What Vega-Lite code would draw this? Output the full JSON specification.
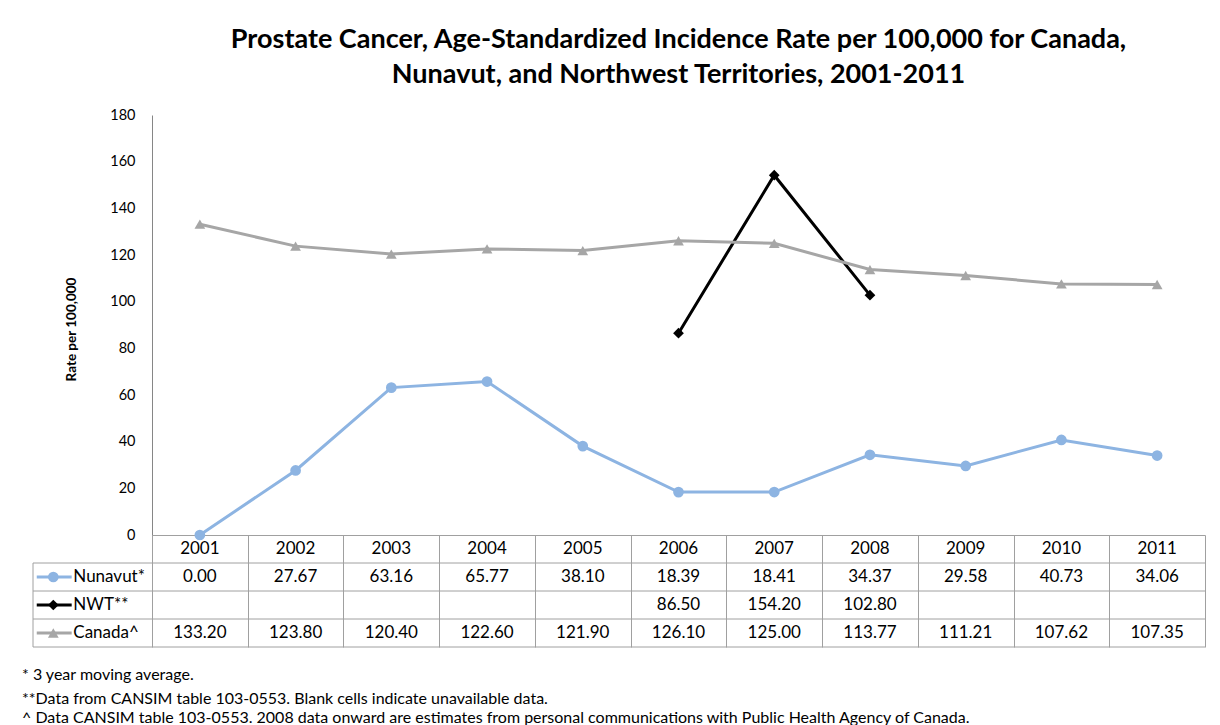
{
  "$schema": "https://vega.github.io/schema/vega-lite/v6.json",
  "width": 1053,
  "height": 420,
  "autosize": {"type": "none"},
  "padding": {"left": 152, "top": 115, "right": 15, "bottom": 190},
  "background": "white",
  "config": {"view": {"stroke": null}, "font": "Lato", "text": {"font": "Lato", "color": "black"}},
  "title": {
    "text": ["Prostate Cancer, Age-Standardized Incidence Rate per 100,000 for Canada,", "Nunavut, and Northwest Territories, 2001-2011"],
    "font": "Lato", "fontSize": 27, "fontWeight": "bold", "color": "black",
    "anchor": "middle", "frame": "group", "lineHeight": 35, "offset": 18
  },
  "data": {
    "values": [
      {"year": 2001, "series": "Nunavut*", "value": 0.00},
      {"year": 2002, "series": "Nunavut*", "value": 27.67},
      {"year": 2003, "series": "Nunavut*", "value": 63.16},
      {"year": 2004, "series": "Nunavut*", "value": 65.77},
      {"year": 2005, "series": "Nunavut*", "value": 38.10},
      {"year": 2006, "series": "Nunavut*", "value": 18.39},
      {"year": 2007, "series": "Nunavut*", "value": 18.41},
      {"year": 2008, "series": "Nunavut*", "value": 34.37},
      {"year": 2009, "series": "Nunavut*", "value": 29.58},
      {"year": 2010, "series": "Nunavut*", "value": 40.73},
      {"year": 2011, "series": "Nunavut*", "value": 34.06},
      {"year": 2006, "series": "NWT**", "value": 86.50},
      {"year": 2007, "series": "NWT**", "value": 154.20},
      {"year": 2008, "series": "NWT**", "value": 102.80},
      {"year": 2001, "series": "Canada^", "value": 133.20},
      {"year": 2002, "series": "Canada^", "value": 123.80},
      {"year": 2003, "series": "Canada^", "value": 120.40},
      {"year": 2004, "series": "Canada^", "value": 122.60},
      {"year": 2005, "series": "Canada^", "value": 121.90},
      {"year": 2006, "series": "Canada^", "value": 126.10},
      {"year": 2007, "series": "Canada^", "value": 125.00},
      {"year": 2008, "series": "Canada^", "value": 113.77},
      {"year": 2009, "series": "Canada^", "value": 111.21},
      {"year": 2010, "series": "Canada^", "value": 107.62},
      {"year": 2011, "series": "Canada^", "value": 107.35}
    ]
  },
  "layer": [
    {
      "mark": {"type": "line", "strokeWidth": 3},
      "encoding": {
        "x": {
          "field": "year", "type": "quantitative",
          "scale": {"domain": [2000.5, 2011.5], "nice": false, "zero": false},
          "axis": {
            "values": [2000.5, 2001.5, 2002.5, 2003.5, 2004.5, 2005.5, 2006.5, 2007.5, 2008.5, 2009.5, 2010.5, 2011.5],
            "labels": false, "ticks": true, "tickSize": 112, "tickColor": "#a0a0a0", "tickWidth": 1,
            "domain": true, "domainColor": "#a0a0a0", "domainWidth": 1, "grid": false, "title": null
          }
        },
        "y": {
          "field": "value", "type": "quantitative",
          "scale": {"domain": [0, 180], "nice": false, "zero": true},
          "axis": {
            "values": [0, 20, 40, 60, 80, 100, 120, 140, 160, 180],
            "ticks": false, "labelPadding": 17, "labelFont": "Lato", "labelFontSize": 14.5, "labelColor": "black",
            "domainColor": "#868686", "domainWidth": 1, "grid": false,
            "title": "Rate per 100,000", "titleFont": "Lato", "titleFontSize": 13.5, "titleFontWeight": "bold",
            "titleColor": "black", "titleX": -74, "titleY": 214, "titleBaseline": "bottom", "titleAngle": -90, "titleAlign": "center"
          }
        },
        "color": {
          "field": "series", "type": "nominal",
          "scale": {"domain": ["Nunavut*", "NWT**", "Canada^"], "range": ["#8db4e2", "#000000", "#a6a6a6"]},
          "legend": null
        }
      }
    },
    {
      "mark": {"type": "point", "filled": true, "opacity": 1, "size": 115},
      "encoding": {
        "x": {"field": "year", "type": "quantitative"},
        "y": {"field": "value", "type": "quantitative"},
        "color": {"field": "series", "type": "nominal", "legend": null},
        "shape": {
          "field": "series", "type": "nominal",
          "scale": {"domain": ["Nunavut*", "NWT**", "Canada^"], "range": ["circle", "diamond", "triangle-up"]},
          "legend": null
        }
      }
    },
    {"data": {"values": [{}]}, "mark": {"type": "rule", "color": "#a0a0a0", "strokeWidth": 1},
     "encoding": {"x": {"datum": 1999.257, "type": "quantitative"}, "x2": {"datum": 2011.5}, "y": {"datum": -12, "type": "quantitative"}}},
    {"data": {"values": [{}]}, "mark": {"type": "rule", "color": "#a0a0a0", "strokeWidth": 1},
     "encoding": {"x": {"datum": 1999.257, "type": "quantitative"}, "x2": {"datum": 2011.5}, "y": {"datum": -24, "type": "quantitative"}}},
    {"data": {"values": [{}]}, "mark": {"type": "rule", "color": "#a0a0a0", "strokeWidth": 1},
     "encoding": {"x": {"datum": 1999.257, "type": "quantitative"}, "x2": {"datum": 2011.5}, "y": {"datum": -36, "type": "quantitative"}}},
    {"data": {"values": [{}]}, "mark": {"type": "rule", "color": "#a0a0a0", "strokeWidth": 1},
     "encoding": {"x": {"datum": 1999.257, "type": "quantitative"}, "x2": {"datum": 2011.5}, "y": {"datum": -48, "type": "quantitative"}}},
    {"data": {"values": [{}]}, "mark": {"type": "rule", "color": "#a0a0a0", "strokeWidth": 1},
     "encoding": {"x": {"datum": 1999.257, "type": "quantitative"}, "y": {"datum": -12, "type": "quantitative"}, "y2": {"datum": -48}}},
    {
      "transform": [{"filter": "datum.series == 'Canada^'"}],
      "mark": {"type": "text", "fontSize": 17, "baseline": "middle", "align": "center"},
      "encoding": {"x": {"field": "year", "type": "quantitative"}, "y": {"datum": -6, "type": "quantitative"}, "text": {"field": "year", "type": "quantitative", "format": "d"}}
    },
    {
      "transform": [{"filter": "datum.series == 'Nunavut*'"}],
      "mark": {"type": "text", "fontSize": 17, "baseline": "middle", "align": "center"},
      "encoding": {"x": {"field": "year", "type": "quantitative"}, "y": {"datum": -18, "type": "quantitative"}, "text": {"field": "value", "type": "quantitative", "format": ".2f"}}
    },
    {
      "transform": [{"filter": "datum.series == 'NWT**'"}],
      "mark": {"type": "text", "fontSize": 17, "baseline": "middle", "align": "center"},
      "encoding": {"x": {"field": "year", "type": "quantitative"}, "y": {"datum": -30, "type": "quantitative"}, "text": {"field": "value", "type": "quantitative", "format": ".2f"}}
    },
    {
      "transform": [{"filter": "datum.series == 'Canada^'"}],
      "mark": {"type": "text", "fontSize": 17, "baseline": "middle", "align": "center"},
      "encoding": {"x": {"field": "year", "type": "quantitative"}, "y": {"datum": -42, "type": "quantitative"}, "text": {"field": "value", "type": "quantitative", "format": ".2f"}}
    },
    {"data": {"values": [{}]}, "mark": {"type": "rule", "color": "#8db4e2", "strokeWidth": 3},
     "encoding": {"x": {"datum": 1999.296, "type": "quantitative"}, "x2": {"datum": 1999.661}, "y": {"datum": -18, "type": "quantitative"}}},
    {"data": {"values": [{}]}, "mark": {"type": "point", "shape": "circle", "filled": true, "opacity": 1, "size": 115, "color": "#8db4e2"},
     "encoding": {"x": {"datum": 1999.469, "type": "quantitative"}, "y": {"datum": -18, "type": "quantitative"}}},
    {"data": {"values": [{}]}, "mark": {"type": "text", "text": "Nunavut*", "fontSize": 17, "align": "left", "baseline": "middle"},
     "encoding": {"x": {"datum": 1999.678, "type": "quantitative"}, "y": {"datum": -18, "type": "quantitative"}}},
    {"data": {"values": [{}]}, "mark": {"type": "rule", "color": "#000000", "strokeWidth": 3},
     "encoding": {"x": {"datum": 1999.296, "type": "quantitative"}, "x2": {"datum": 1999.661}, "y": {"datum": -30, "type": "quantitative"}}},
    {"data": {"values": [{}]}, "mark": {"type": "point", "shape": "diamond", "filled": true, "opacity": 1, "size": 115, "color": "#000000"},
     "encoding": {"x": {"datum": 1999.469, "type": "quantitative"}, "y": {"datum": -30, "type": "quantitative"}}},
    {"data": {"values": [{}]}, "mark": {"type": "text", "text": "NWT**", "fontSize": 17, "align": "left", "baseline": "middle"},
     "encoding": {"x": {"datum": 1999.678, "type": "quantitative"}, "y": {"datum": -30, "type": "quantitative"}}},
    {"data": {"values": [{}]}, "mark": {"type": "rule", "color": "#a6a6a6", "strokeWidth": 3},
     "encoding": {"x": {"datum": 1999.296, "type": "quantitative"}, "x2": {"datum": 1999.661}, "y": {"datum": -42, "type": "quantitative"}}},
    {"data": {"values": [{}]}, "mark": {"type": "point", "shape": "triangle-up", "filled": true, "opacity": 1, "size": 115, "color": "#a6a6a6"},
     "encoding": {"x": {"datum": 1999.469, "type": "quantitative"}, "y": {"datum": -42, "type": "quantitative"}}},
    {"data": {"values": [{}]}, "mark": {"type": "text", "text": "Canada^", "fontSize": 17, "align": "left", "baseline": "middle"},
     "encoding": {"x": {"datum": 1999.678, "type": "quantitative"}, "y": {"datum": -42, "type": "quantitative"}}},
    {"data": {"values": [{}]}, "mark": {"type": "text", "text": "* 3 year moving average.", "fontSize": 16, "align": "left", "baseline": "middle"},
     "encoding": {"x": {"datum": 1999.142, "type": "quantitative"}, "y": {"datum": -60, "type": "quantitative"}}},
    {"data": {"values": [{}]}, "mark": {"type": "text", "text": "**Data from CANSIM table 103-0553. Blank cells indicate unavailable data.", "fontSize": 16, "align": "left", "baseline": "middle"},
     "encoding": {"x": {"datum": 1999.142, "type": "quantitative"}, "y": {"datum": -70.3, "type": "quantitative"}}},
    {"data": {"values": [{}]}, "mark": {"type": "text", "text": "^  Data CANSIM table 103-0553. 2008 data onward are estimates from  personal communications with Public Health Agency of Canada.", "fontSize": 16, "align": "left", "baseline": "middle"},
     "encoding": {"x": {"datum": 1999.142, "type": "quantitative"}, "y": {"datum": -78.3, "type": "quantitative"}}}
  ]
}
